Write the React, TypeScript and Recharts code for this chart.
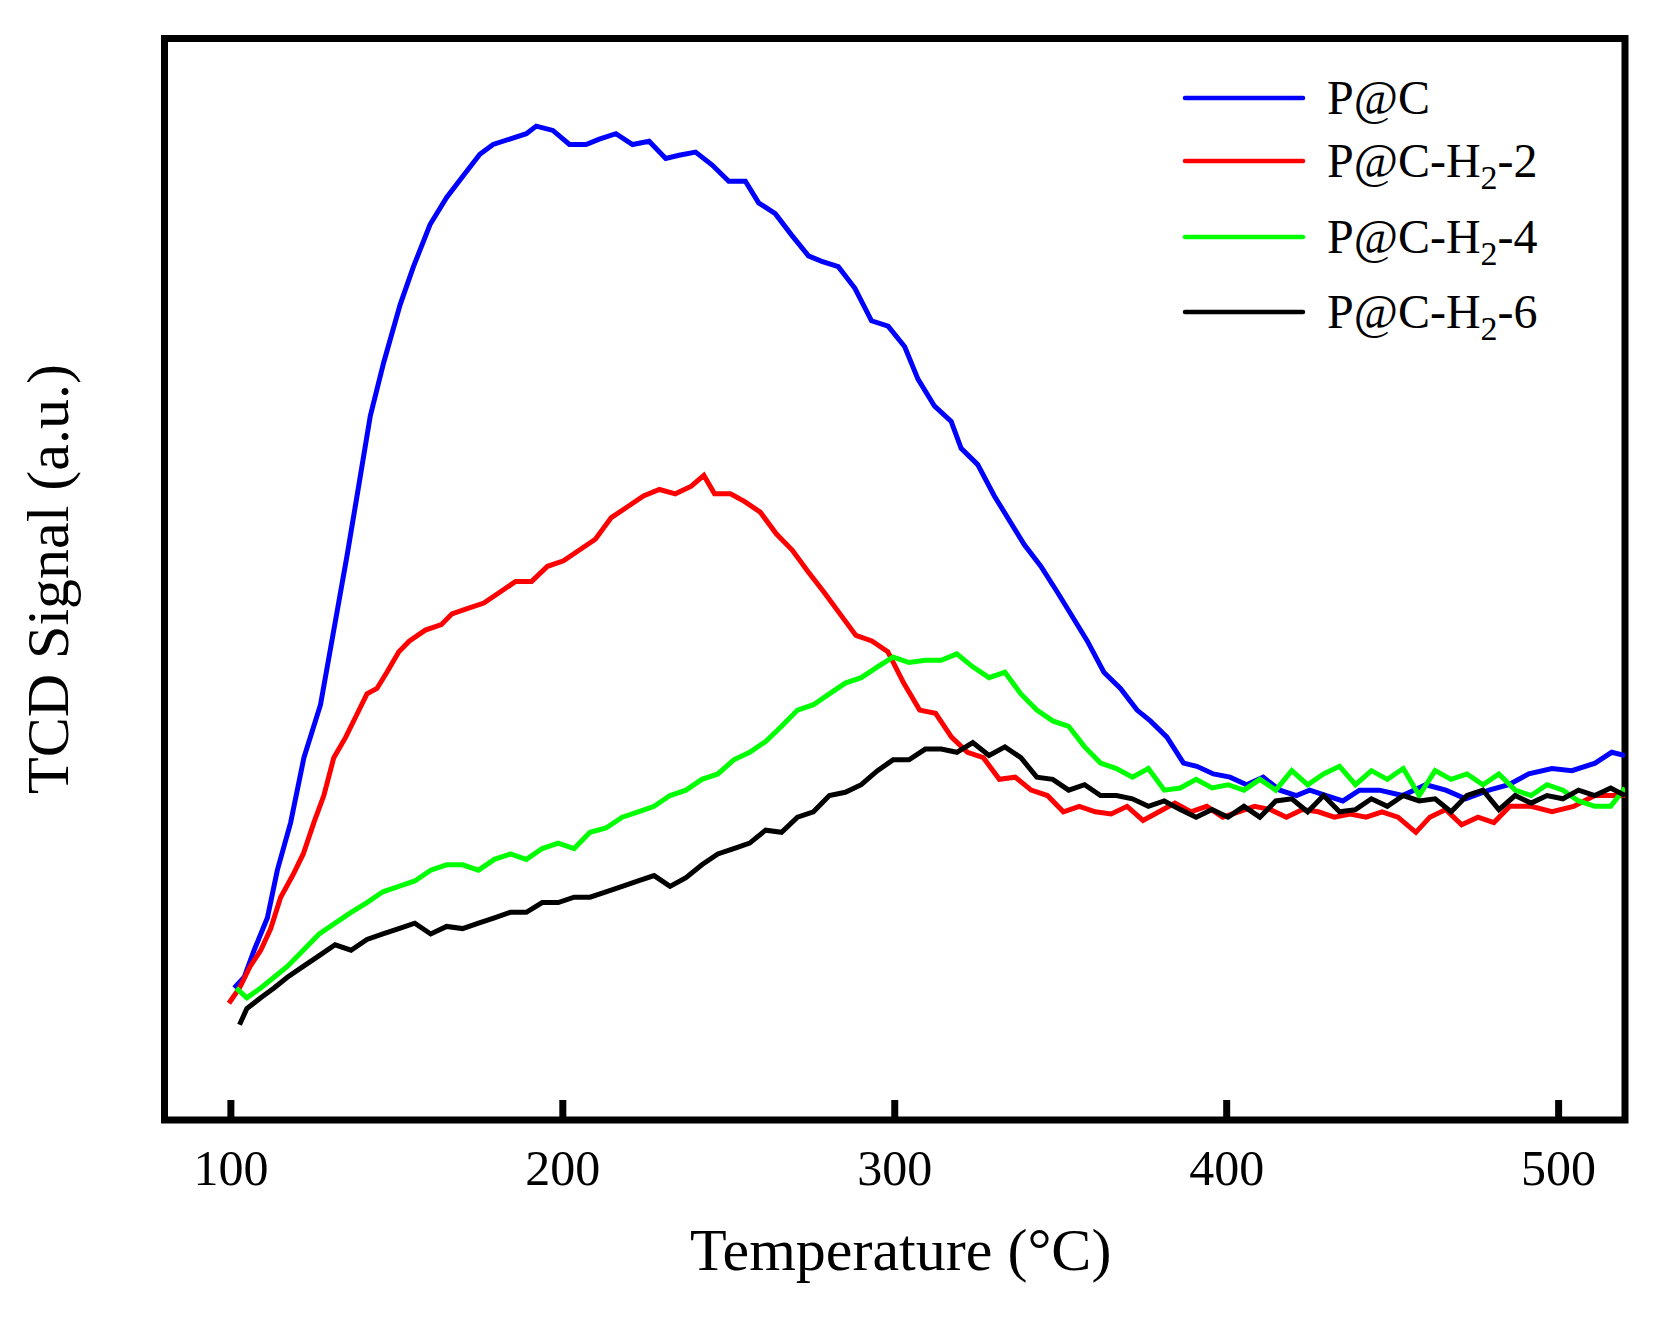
import React from "react";
import { LineChart, Line, XAxis, YAxis, ReferenceArea } from "recharts";

const FONT = "'Liberation Serif', 'Times New Roman', serif";

/* x tick labels (°C) */
const tempTicks = [100, 200, 300, 400, 500];

/* [temperature °C, TCD signal a.u.] */
const pcSignal: [number, number][] = [
  [101, 12.2], [104, 13.2], [107, 15.7], [111, 18.7], [114, 23.1], [118, 27.5],
  [122, 33.5], [127, 38.4], [131, 45.3], [135, 52.2], [138, 57.7], [142, 65.1],
  [146, 70.0], [151, 75.4], [155, 78.9], [160, 82.8], [165, 85.3], [170, 87.3],
  [175, 89.3], [179, 90.2], [184, 90.7], [189, 91.2], [192, 91.9], [197, 91.5],
  [202, 90.2], [207, 90.2], [211, 90.7], [216, 91.2], [221, 90.2], [226, 90.5],
  [231, 88.9], [235, 89.2], [240, 89.5], [245, 88.3], [250, 86.8], [255, 86.8],
  [259, 84.8], [264, 83.8], [269, 81.8], [274, 79.9], [278, 79.4], [283, 78.9],
  [288, 76.9], [293, 73.9], [298, 73.4], [303, 71.5], [307, 68.5], [312, 66.0],
  [317, 64.6], [320, 62.1], [325, 60.6], [330, 57.7], [335, 55.2], [339, 53.2],
  [344, 51.2], [349, 48.8], [354, 46.3], [358, 44.3], [363, 41.4], [368, 39.9],
  [373, 37.9], [377, 36.9], [382, 35.4], [387, 33.0], [391, 32.7], [396, 32.0],
  [401, 31.7], [406, 31.0], [411, 31.7], [416, 30.5], [421, 30.0], [425, 30.5],
  [430, 30.0], [435, 29.5], [440, 30.5], [446, 30.5], [453, 30.0], [460, 31.0],
  [466, 30.5], [472, 29.7], [479, 30.5], [485, 31.0], [491, 32.0], [498, 32.5],
  [504, 32.3], [511, 33.0], [516, 34.0], [520, 33.7],
];

const pcH2_2Signal: [number, number][] = [
  [99.4, 10.8], [102.6, 12.2], [105.8, 14.2], [109, 15.7], [112, 17.7], [115, 20.6],
  [118.6, 22.6], [121.8, 24.6], [125, 27.5], [128, 30.0], [131, 33.5], [134.6, 35.4],
  [137.8, 37.4], [141, 39.4], [144, 39.9], [147, 41.4], [150.6, 43.3], [153.8, 44.3],
  [158.6, 45.3], [163.4, 45.8], [166.6, 46.8], [171.4, 47.3], [176.2, 47.8], [181, 48.8],
  [185.8, 49.8], [190.6, 49.8], [195.4, 51.2], [200.2, 51.7], [205, 52.7], [209.8, 53.7],
  [214.6, 55.7], [219.5, 56.7], [224.3, 57.7], [229.1, 58.3], [233.9, 57.9], [238.7, 58.6],
  [242.5, 59.6], [245.7, 57.9], [250.5, 57.9], [254.7, 57.2], [259.5, 56.2], [264.3, 54.2],
  [269.1, 52.7], [273.9, 50.7], [278.7, 48.8], [283.5, 46.8], [288.3, 44.8], [293.1, 44.3],
  [297.9, 43.3], [302.7, 40.4], [307.5, 37.9], [312.3, 37.6], [317.1, 35.4], [321.9, 34.0],
  [326.7, 33.5], [331.5, 31.5], [336.3, 31.7], [341.1, 30.5], [346, 30.0], [350.8, 28.5],
  [355.6, 29.0], [360.4, 28.5], [365.2, 28.3], [370, 29.0], [374.8, 27.7], [379.6, 28.5],
  [384.4, 29.3], [389.2, 28.5], [394, 29.0], [398.8, 28.0], [403.6, 28.5], [408.4, 29.0],
  [413.2, 28.7], [418, 28.0], [422.8, 28.7], [427.6, 28.5], [432.4, 28.0], [437.2, 28.3],
  [442, 28.0], [446.8, 28.5], [451.6, 28.0], [457, 26.6], [461.2, 28.0], [466, 28.7],
  [470.8, 27.3], [475.7, 28.0], [480.5, 27.5], [485.3, 29.0], [491.7, 29.0], [498, 28.5],
  [504.5, 29.0], [510.9, 30.0], [520, 30.0],
];

const pcH2_4Signal: [number, number][] = [
  [101.6, 12.2], [104.8, 11.3], [109, 12.2], [113, 13.2], [117, 14.2], [121.8, 15.7],
  [126.6, 17.2], [131.4, 18.2], [136.2, 19.2], [141, 20.1], [145.8, 21.1], [150.6, 21.6],
  [155.4, 22.1], [160.2, 23.1], [165, 23.6], [169.8, 23.6], [174.6, 23.1], [179.4, 24.1],
  [184.2, 24.6], [189, 24.1], [193.8, 25.1], [198.6, 25.6], [203.4, 25.1], [208.2, 26.6],
  [213, 27.0], [217.9, 28.0], [222.7, 28.5], [227.5, 29.0], [232.3, 30.0], [237.1, 30.5],
  [241.9, 31.5], [246.7, 32.0], [251.5, 33.3], [256.3, 34.0], [261.1, 35.0], [265.9, 36.4],
  [270.7, 37.9], [275.5, 38.4], [280.3, 39.4], [285.1, 40.4], [289.9, 40.9], [294.8, 41.9],
  [299.5, 42.8], [304.3, 42.3], [309.2, 42.5], [314, 42.5], [318.7, 43.1], [323.5, 41.9],
  [328.4, 40.9], [333.2, 41.4], [338, 39.4], [342.8, 37.9], [347.6, 36.9], [352.4, 36.4],
  [357.2, 34.5], [362, 33.0], [366.8, 32.5], [371.6, 31.7], [376.4, 32.5], [381.2, 30.5],
  [386, 30.7], [390.8, 31.5], [395.6, 30.7], [400.4, 31.0], [405.2, 30.5], [410, 31.5],
  [414.8, 30.5], [419.6, 32.3], [424.4, 31.0], [429.2, 32.0], [434, 32.7], [438.8, 31.0],
  [443.6, 32.3], [448.4, 31.5], [453.2, 32.5], [458, 30.0], [462.8, 32.3], [467.6, 31.5],
  [472.4, 32.0], [477.2, 31.0], [482, 32.0], [486.9, 30.5], [491.7, 30.0], [496.5, 31.0],
  [501.3, 30.5], [506, 29.5], [510.9, 29.0], [515.7, 29.0], [520, 30.7],
];

const pcH2_6Signal: [number, number][] = [
  [102.6, 8.8], [104.8, 10.3], [109, 11.3], [113, 12.2], [117, 13.2], [121.8, 14.2],
  [126.6, 15.2], [131.4, 16.2], [136.2, 15.7], [141, 16.7], [145.8, 17.2], [150.6, 17.7],
  [155.4, 18.2], [160.2, 17.2], [165, 17.9], [169.8, 17.7], [174.6, 18.2], [179.4, 18.7],
  [184.2, 19.2], [189, 19.2], [193.8, 20.1], [198.6, 20.1], [203.4, 20.6], [208.2, 20.6],
  [213, 21.1], [217.9, 21.6], [222.7, 22.1], [227.5, 22.6], [232.3, 21.6], [237.1, 22.4],
  [241.9, 23.6], [246.7, 24.6], [251.5, 25.1], [256.3, 25.6], [261.1, 26.8], [265.9, 26.6],
  [270.7, 28.0], [275.5, 28.5], [280.3, 30.0], [285.1, 30.3], [289.9, 31.0], [294.8, 32.3],
  [299.5, 33.3], [304.3, 33.3], [309.2, 34.3], [314, 34.3], [318.7, 34.0], [323.5, 34.9],
  [328.4, 33.7], [333.2, 34.5], [338, 33.5], [342.8, 31.7], [347.6, 31.5], [352.4, 30.5],
  [357.2, 31.0], [362, 30.0], [366.8, 30.0], [371.6, 29.7], [376.4, 29.0], [381.2, 29.5],
  [386, 28.7], [390.8, 28.0], [395.6, 28.7], [400.4, 28.0], [405.2, 29.0], [410, 28.0],
  [414.8, 29.5], [419.6, 29.7], [424.4, 28.5], [429.2, 30.0], [434, 28.5], [438.8, 28.7],
  [443.6, 29.7], [448.4, 29.0], [453.2, 30.0], [458, 29.5], [462.8, 29.7], [467.6, 28.5],
  [472.4, 30.0], [477.2, 30.5], [482, 28.7], [486.9, 30.0], [491.7, 29.3], [496.5, 30.0],
  [501.3, 29.7], [506, 30.5], [510.9, 30.0], [515.7, 30.7], [520, 30.0],
];

const seriesNames = ["P@C", "P@C-H2-2", "P@C-H2-4", "P@C-H2-6"];
const seriesColors = ["#0000ff", "#ff0000", "#00ff00", "#000000"];
const seriesData = [pcSignal, pcH2_2Signal, pcH2_4Signal, pcH2_6Signal];

const toPoints = (rows: [number, number][]) => rows.map(([t, v]) => ({ t, v }));

/* "H2" gets a real subscript */
function SeriesLabel({ name, x, y }: { name: string; x: number; y: number }) {
  const parts = name.split("H2");
  return (
    <text x={x} y={y} fontFamily={FONT} fontSize={48} fill="#000">
      {parts[0]}
      {parts.length > 1 && (
        <>
          <tspan>H</tspan>
          <tspan fontSize={34} dy={12}>2</tspan>
          <tspan dy={-12}>{parts[1]}</tspan>
        </>
      )}
    </text>
  );
}

const legendRows = [38, 101, 177, 252];

function LegendBox() {
  return (
    <svg
      width={460}
      height={290}
      style={{ position: "absolute", left: 1162, top: 52, overflow: "visible" }}
    >
      {seriesNames.map((name, i) => (
        <g key={name}>
          <line x1={15} x2={133} y1={legendRows[i]} y2={legendRows[i]}
            stroke={seriesColors[i]} strokeWidth={4.5} strokeLinecap="round" />
          <SeriesLabel name={name} x={157} y={legendRows[i] + 16} />
        </g>
      ))}
    </svg>
  );
}

/* y title, the axis itself has no ticks */
function SignalTitle() {
  return (
    <svg width={120} height={1100} style={{ position: "absolute", left: 0, top: 0, overflow: "visible" }}>
      <text
        x={60}
        y={571}
        transform="rotate(-90 60 571)"
        textAnchor="middle"
        fontFamily={FONT}
        fontSize={60}
        fill="#000"
      >
        TCD Signal (a.u.)
      </text>
    </svg>
  );
}

function TempTick(props: any) {
  const { x, y, payload } = props;
  return (
    <g>
      <line x1={x} x2={x} y1={y} y2={y - 20} stroke="#000" strokeWidth={7} />
      <text x={x} y={y + 65} textAnchor="middle" fontFamily={FONT} fontSize={50} fill="#000">
        {payload.value}
      </text>
    </g>
  );
}

export default function App() {
  return (
    <div style={{ position: "relative", width: 1659, height: 1319 }}>
      <LineChart width={1659} height={1319} margin={{ top: 30.5, right: 42, bottom: 0, left: 156.5 }}>
        <XAxis
          type="number"
          dataKey="t"
          domain={[80, 520]}
          ticks={tempTicks}
          interval={0}
          allowDataOverflow
          height={207}
          axisLine={false}
          tickLine={false}
          tickSize={0}
          tickMargin={0}
          tick={<TempTick />}
          label={{
            value: "Temperature (°C)",
            position: "insideBottom",
            offset: 57,
            dx: 6,
            style: { fontFamily: FONT, fontSize: 60, fill: "#000" },
          }}
        />
        <YAxis
          type="number"
          domain={[0, 100]}
          allowDataOverflow
          width={0}
          tick={false}
          tickLine={false}
          axisLine={false}
        />
        {seriesData.map((rows, i) => (
          <Line
            key={seriesNames[i]}
            data={toPoints(rows)}
            dataKey="v"
            name={seriesNames[i]}
            type="linear"
            stroke={seriesColors[i]}
            strokeWidth={5}
            dot={false}
            activeDot={false}
            isAnimationActive={false}
          />
        ))}
        <ReferenceArea x1={80} x2={520} y1={0} y2={100} fill="none" stroke="#000" strokeWidth={7} />
      </LineChart>
      <SignalTitle />
      <LegendBox />
    </div>
  );
}
